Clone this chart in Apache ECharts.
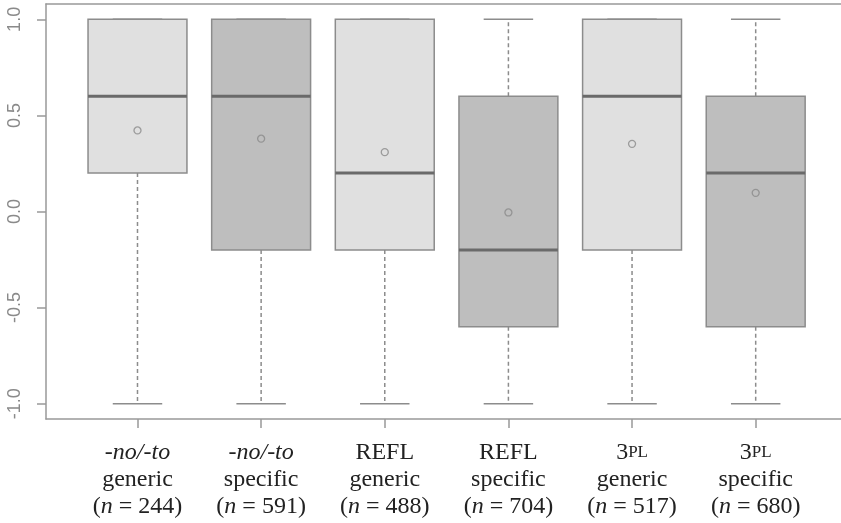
<!DOCTYPE html>
<html>
<head>
<meta charset="utf-8">
<script src="https://cdn.jsdelivr.net/npm/echarts@6/dist/echarts.min.js"></script>
<style>html,body{margin:0;padding:0;background:#fff}#c{width:841px;height:523px}</style>
</head>
<body>
<div id="c"></div>
<script>
// ---- data ----
const categories = ['-no/-to generic', '-no/-to specific', 'REFL generic', 'REFL specific', '3PL generic', '3PL specific'];
const groupLabels = ['-no/-to', '-no/-to', 'REFL', 'REFL', '3PL', '3PL'];
const typeLabels = ['generic', 'specific', 'generic', 'specific', 'generic', 'specific'];
const nCounts = [244, 591, 488, 704, 517, 680];
const whiskerLow = [-1, -1, -1, -1, -1, -1];
const q1Values = [0.2, -0.2, -0.2, -0.6, -0.2, -0.6];
const medianValues = [0.6, 0.6, 0.2, -0.2, 0.6, 0.2];
const q3Values = [1.0, 1.0, 1.0, 0.6, 1.0, 0.6];
const whiskerHigh = [1, 1, 1, 1, 1, 1];
const meanValues = [0.422, 0.379, 0.309, -0.005, 0.352, 0.097];
const yTicks = [-1, -0.5, 0, 0.5, 1];

const fills = ['#e0e0e0', '#bebebe', '#e0e0e0', '#bebebe', '#e0e0e0', '#bebebe'];
const positions = categories.map((c, i) => i + 1);

const boxData = positions.map((x, i) => [x, whiskerLow[i], q1Values[i], medianValues[i], q3Values[i], whiskerHigh[i]]);
const meanData = positions.map((x, i) => [x, meanValues[i]]);

const boxCol = '#8c8c8c';
const frameCol = '#999';

function renderBox(params, api) {
  const x = api.value(0), lo = api.value(1), q1 = api.value(2), med = api.value(3), q3 = api.value(4), hi = api.value(5);
  const hw = 0.4, cw = 0.2;
  const pL = api.coord([x - hw, q3]), pR = api.coord([x + hw, q1]);
  const pc = (xx, yy) => api.coord([xx, yy]);
  const children = [];
  children.push({type: 'line', shape: {x1: pc(x, q3)[0], y1: pc(x, q3)[1], x2: pc(x, hi)[0], y2: pc(x, hi)[1]},
    style: {stroke: boxCol, lineWidth: 1.5, lineDash: [4, 3]}});
  children.push({type: 'line', shape: {x1: pc(x, q1)[0], y1: pc(x, q1)[1], x2: pc(x, lo)[0], y2: pc(x, lo)[1]},
    style: {stroke: boxCol, lineWidth: 1.5, lineDash: [4, 3]}});
  children.push({type: 'line', shape: {x1: pc(x - cw, hi)[0], y1: pc(x, hi)[1], x2: pc(x + cw, hi)[0], y2: pc(x, hi)[1]},
    style: {stroke: boxCol, lineWidth: 1.5}});
  children.push({type: 'line', shape: {x1: pc(x - cw, lo)[0], y1: pc(x, lo)[1], x2: pc(x + cw, lo)[0], y2: pc(x, lo)[1]},
    style: {stroke: boxCol, lineWidth: 1.5}});
  children.push({type: 'rect', shape: {x: pL[0], y: pL[1], width: pR[0] - pL[0], height: pR[1] - pL[1]},
    style: {fill: fills[params.dataIndex], stroke: boxCol, lineWidth: 1.5}});
  children.push({type: 'line', shape: {x1: pc(x - hw, med)[0], y1: pc(x, med)[1], x2: pc(x + hw, med)[0], y2: pc(x, med)[1]},
    style: {stroke: '#6a6a6a', lineWidth: 3}});
  return {type: 'group', children};
}

const chart = echarts.init(document.getElementById('c'), null, {renderer: 'canvas'});
chart.setOption({
  animation: false,
  backgroundColor: '#fff',
  grid: {left: 46, right: 0, top: 4, height: 415, show: false},
  xAxis: [{
    type: 'value', min: 0.26, max: 6.69,
    axisLine: {show: true, onZero: false, lineStyle: {color: frameCol, width: 1.5}},
    splitLine: {show: false},
    axisTick: {show: true, length: 9, customValues: positions, lineStyle: {color: frameCol, width: 1.5}},
    axisLabel: {
      customValues: positions,
      margin: 20,
      formatter: function (v) {
        const i = Math.round(v) - 1;
        const g = groupLabels[i];
        let first;
        if (g === '-no/-to') first = '{it|-no/-to}';
        else if (g === '3PL') first = '{r|3}{sc|PL}';
        else first = '{r|' + g + '}';
        return first + '\n{r|' + typeLabels[i] + '}\n{r|(}{it|n}{r| = ' + nCounts[i] + ')}';
      },
      rich: {
        r: {fontFamily: 'Liberation Serif', fontSize: 24, color: '#222', lineHeight: 27},
        it: {fontFamily: 'Liberation Serif', fontSize: 24, fontStyle: 'italic', color: '#222', lineHeight: 27},
        sc: {fontFamily: 'Liberation Serif', fontSize: 17, color: '#222', lineHeight: 27}
      }
    }
  }, {
    type: 'value', position: 'top', min: 0.26, max: 6.69,
    axisLine: {show: true, onZero: false, lineStyle: {color: frameCol, width: 1.5}},
    axisTick: {show: false}, axisLabel: {show: false}, splitLine: {show: false}
  }],
  yAxis: {
    type: 'value', min: -1.08, max: 1.08,
    axisLine: {show: true, onZero: false, lineStyle: {color: frameCol, width: 1.5}},
    splitLine: {show: false},
    axisTick: {show: true, length: 9, customValues: yTicks, lineStyle: {color: frameCol, width: 1.5}},
    axisLabel: {
      customValues: yTicks,
      rotate: 90,
      margin: 22,
      fontFamily: 'Liberation Sans', fontSize: 18, color: '#8a8a8a',
      formatter: v => v.toFixed(1)
    }
  },
  series: [
    {type: 'custom', renderItem: renderBox, data: boxData, encode: {x: 0, y: [1, 2, 3, 4, 5]}, z: 2},
    {type: 'scatter', data: meanData, symbol: 'circle', symbolSize: 7,
      itemStyle: {color: 'transparent', borderColor: '#8a8a8a', borderWidth: 1.3}, z: 3}
  ]
});
</script>
</body>
</html>
